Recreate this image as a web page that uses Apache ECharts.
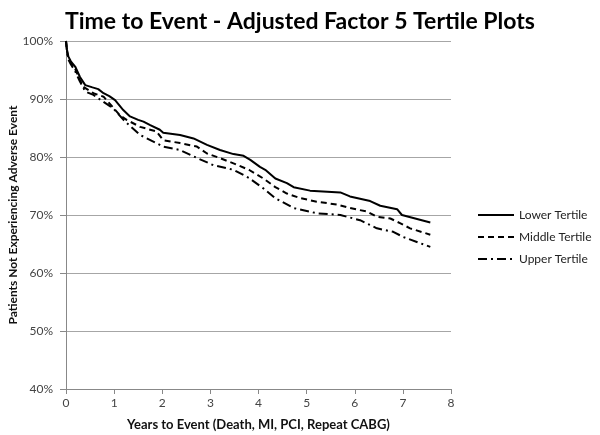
<!DOCTYPE html>
<html>
<head>
<meta charset="utf-8">
<script src="https://cdn.jsdelivr.net/npm/echarts@6/dist/echarts.min.js"></script>
<style>html,body{margin:0;padding:0;background:#fff}#c{width:600px;height:435px}</style>
</head>
<body>
<div id="c"></div>
<script>
var titleText = 'Time to Event - Adjusted Factor 5 Tertile Plots';
var xName = 'Years to Event (Death, MI, PCI, Repeat CABG)';
var yName = 'Patients Not Experiencing Adverse Event';
var seriesNames = ['Lower Tertile', 'Middle Tertile', 'Upper Tertile'];

var lowerT = [0,0.02,0.05,0.1,0.19,0.29,0.40,0.55,0.67,0.78,0.9,1.02,1.19,1.33,1.5,1.61,1.75,1.95,2.02,2.37,2.65,2.93,3.2,3.48,3.69,3.83,4.03,4.14,4.35,4.59,4.73,5.07,5.70,5.90,6.32,6.53,6.88,6.98,7.57];
var lowerV = [100,98.5,97.3,96.5,95.6,93.8,92.4,92.0,91.7,91.0,90.5,89.8,88.1,87.0,86.4,86.1,85.5,84.7,84.2,83.8,83.2,82.1,81.2,80.5,80.2,79.5,78.3,77.8,76.3,75.5,74.8,74.2,73.9,73.2,72.4,71.6,71.0,70.0,68.7];

var middleT = [0,0.02,0.05,0.1,0.19,0.29,0.36,0.57,0.78,0.95,1.12,1.26,1.54,1.88,2.02,2.37,2.72,2.93,3.20,3.48,3.8,4.1,4.35,4.59,4.87,5.21,5.63,5.90,6.25,6.46,6.74,6.94,7.15,7.57];
var middleV = [100,98.3,97.0,96.2,95.2,93.3,92.1,91.0,90.4,88.8,87.2,86.4,85.2,84.4,82.9,82.4,81.8,80.6,79.8,78.9,77.8,76.3,74.8,73.7,72.9,72.3,71.8,71.2,70.6,69.7,69.4,68.6,67.7,66.6];

var upperT = [0,0.02,0.05,0.1,0.19,0.29,0.40,0.57,0.78,0.98,1.23,1.54,1.95,2.02,2.37,2.65,3.06,3.48,3.8,4.1,4.35,4.73,5.21,5.70,6.11,6.46,6.80,7.01,7.57];
var upperV = [100,98.2,96.8,96.0,94.8,93.0,91.3,90.7,89.5,88.4,86.1,83.8,82.1,81.8,81.2,80.1,78.6,77.8,76.4,74.6,72.9,71.2,70.3,70.0,69.1,67.7,67.1,66.2,64.5];

function pairs(t, v) { return t.map(function (x, i) { return [x, v[i]]; }); }

var chart = echarts.init(document.getElementById('c'), null, {renderer: 'canvas'});
var font = 'Lato, "Open Sans", sans-serif';
var dashes = ['solid', [6, 4], [9, 4, 2, 4]];
var allData = [pairs(lowerT, lowerV), pairs(middleT, middleV), pairs(upperT, upperV)];

chart.setOption({
  animation: false,
  title: {
    text: titleText, left: 'center', top: 5,
    textStyle: {fontFamily: font, fontWeight: 'bold', fontSize: 23, color: '#000'}
  },
  legend: {
    orient: 'vertical', left: 477, top: 209, padding: 0, itemGap: 10, itemWidth: 36, itemHeight: 10,
    textStyle: {fontFamily: font, fontSize: 12, color: '#222'},
    itemStyle: {color: 'transparent', borderWidth: 0, opacity: 0},
    data: seriesNames
  },
  grid: {left: 66, right: 149, top: 41, bottom: 46, containLabel: false, outerBoundsMode: 'none'},
  xAxis: {
    type: 'value', min: 0, max: 8, interval: 1,
    name: xName, nameLocation: 'middle', nameGap: 29, nameMoveOverlap: false,
    nameTextStyle: {fontFamily: font, fontWeight: 'bold', fontSize: 13, color: '#111'},
    axisLine: {lineStyle: {color: '#888'}},
    axisTick: {show: true, length: 5, lineStyle: {color: '#888'}},
    axisLabel: {fontFamily: font, fontSize: 12, color: '#444', margin: 8},
    splitLine: {show: false}
  },
  yAxis: {
    type: 'value', min: 40, max: 100, interval: 10,
    name: yName, nameLocation: 'middle', nameGap: 47, nameRotate: 90, nameMoveOverlap: false,
    nameTextStyle: {fontFamily: font, fontWeight: 'bold', fontSize: 12, color: '#111'},
    axisLine: {show: true, lineStyle: {color: '#888'}},
    axisTick: {show: true, length: 6, lineStyle: {color: '#888'}},
    axisLabel: {fontFamily: font, fontSize: 12, color: '#444', margin: 13, formatter: '{value}%'},
    splitLine: {show: true, lineStyle: {color: '#a6a6a6', width: 1}}
  },
  series: seriesNames.map(function (n, i) {
    return {
      name: n, type: 'line', data: allData[i], showSymbol: false, symbol: 'none',
      lineStyle: {color: '#000', width: 2, type: dashes[i]},
      itemStyle: {color: '#000'}
    };
  })
});
</script>
</body>
</html>
